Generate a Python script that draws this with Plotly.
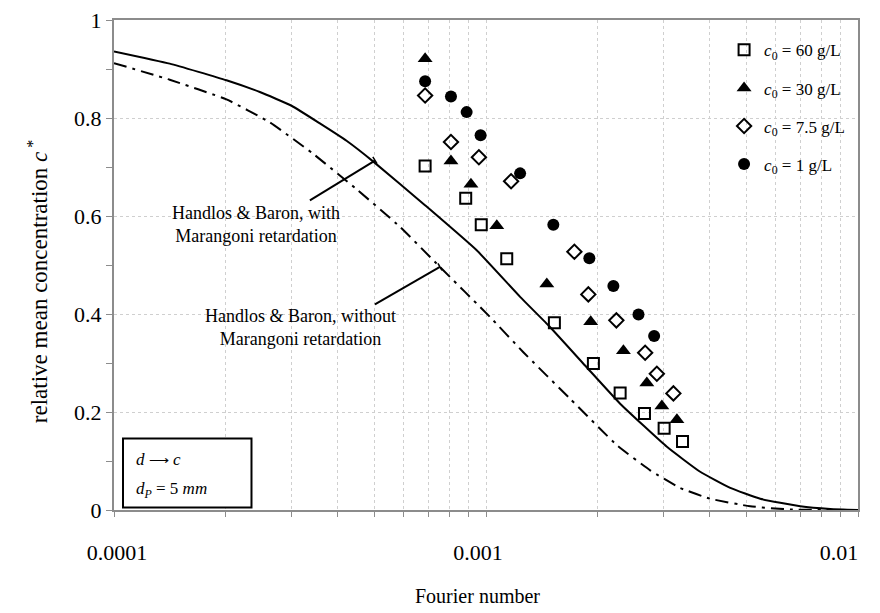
import plotly.graph_objects as go

# ---------------- data ----------------
fo_60 = [6.86e-4, 8.82e-4, 9.71e-4, 1.137e-3, 1.527e-3, 1.944e-3, 2.294e-3, 2.667e-3, 3.012e-3, 3.375e-3]
c_60 = [0.702, 0.636, 0.582, 0.513, 0.382, 0.299, 0.239, 0.197, 0.167, 0.140]

fo_30 = [6.86e-4, 8.05e-4, 9.11e-4, 1.069e-3, 1.457e-3, 1.912e-3, 2.341e-3, 2.706e-3, 2.970e-3, 3.260e-3]
c_30 = [0.921, 0.712, 0.665, 0.580, 0.461, 0.384, 0.325, 0.259, 0.212, 0.184]

fo_75 = [6.86e-4, 8.05e-4, 9.57e-4, 1.168e-3, 1.728e-3, 1.884e-3, 2.241e-3, 2.678e-3, 2.879e-3, 3.190e-3]
c_75 = [0.846, 0.751, 0.720, 0.671, 0.527, 0.440, 0.387, 0.321, 0.278, 0.238]

fo_1 = [6.86e-4, 8.05e-4, 8.87e-4, 9.67e-4, 1.235e-3, 1.517e-3, 1.896e-3, 2.200e-3, 2.570e-3, 2.831e-3]
c_1 = [0.875, 0.844, 0.812, 0.765, 0.687, 0.582, 0.514, 0.457, 0.399, 0.355]

# Handlos & Baron, with Marangoni retardation (solid)
fo_hb_with = [1e-4, 1.412e-4, 2.006e-4, 2.466e-4, 3.001e-4, 3.576e-4, 4.227e-4, 4.998e-4, 6.855e-4,
              9.44e-4, 1.235e-3, 1.471e-3, 1.846e-3, 2.294e-3, 3.064e-3, 3.765e-3, 4.535e-3,
              5.46e-3, 6.995e-3, 8.425e-3, 1e-2]
c_hb_with = [0.936, 0.911, 0.877, 0.853, 0.825, 0.789, 0.753, 0.710, 0.622,
             0.530, 0.435, 0.377, 0.295, 0.217, 0.129, 0.078, 0.045,
             0.023, 0.0076, 0.002, 0.0]

# Handlos & Baron, without Marangoni retardation (dash-dot)
fo_hb_without = [1e-4, 1.412e-4, 2.006e-4, 2.624e-4, 3.43e-4, 4.498e-4, 5.87e-4, 7.52e-4, 1.025e-3,
                 1.26e-3, 1.683e-3, 2.251e-3, 2.762e-3, 3.325e-3, 4.006e-3, 5.13e-3, 6.574e-3, 1e-2]
c_hb_without = [0.912, 0.878, 0.838, 0.791, 0.727, 0.654, 0.578, 0.496, 0.394,
                0.322, 0.227, 0.132, 0.081, 0.045, 0.023, 0.0076, 0.001, 0.0]

NB = "\u00a0"
x_tickvals = [1e-4, 1e-3, 1e-2]
x_ticktext = [NB * 4 + "0.0001", "0.001", "0.01" + NB * 4]
x_minor = [m * d for d in (1e-4, 1e-3) for m in range(2, 10)]
y_tickvals = [0, 0.2, 0.4, 0.6, 0.8, 1.0]
y_ticktext = ["0", "0.2", "0.4", "0.6", "0.8", "1"]

FONT = "Liberation Serif"

fig = go.Figure()

fig.add_trace(go.Scatter(x=fo_hb_with, y=c_hb_with, mode="lines",
                         line=dict(color="black", width=2, shape="spline", smoothing=0.4),
                         showlegend=False, hoverinfo="skip"))
fig.add_trace(go.Scatter(x=fo_hb_without, y=c_hb_without, mode="lines",
                         line=dict(color="black", width=2, dash="13px,6px,3px,6px", shape="spline", smoothing=0.4),
                         showlegend=False, hoverinfo="skip"))

fig.add_trace(go.Scatter(x=fo_60, y=c_60, mode="markers", name="<i>c</i><sub>0</sub> = 60 g/L", legendgroup="a",
                         marker=dict(symbol="square-open", size=11, color="black", line=dict(width=2, color="black"))))
fig.add_trace(go.Scatter(x=fo_30, y=c_30, mode="markers", name="<i>c</i><sub>0</sub> = 30 g/L", legendgroup="b",
                         marker=dict(symbol="triangle-up", size=13, color="black")))
fig.add_trace(go.Scatter(x=fo_75, y=c_75, mode="markers", name="<i>c</i><sub>0</sub> = 7.5 g/L", legendgroup="c",
                         marker=dict(symbol="diamond-open", size=11, color="black", line=dict(width=2, color="black"))))
fig.add_trace(go.Scatter(x=fo_1, y=c_1, mode="markers", name="<i>c</i><sub>0</sub> = 1 g/L", legendgroup="d",
                         marker=dict(symbol="circle", size=12, color="black")))

fig.update_layout(
    width=880, height=613,
    margin=dict(l=114, r=22, t=20, b=103, autoexpand=False),
    plot_bgcolor="white", paper_bgcolor="white",
    font=dict(family=FONT, color="black", size=18),
    legend=dict(x=0.82, y=0.975, xanchor="left", yanchor="top", bgcolor="rgba(0,0,0,0)",
                font=dict(size=17, family=FONT), tracegroupgap=13),
    xaxis=dict(type="log", range=[-4, -2], tickvals=x_tickvals, ticktext=x_ticktext,
               showline=True, mirror=True, linecolor="#8c8c8c", linewidth=2,
               ticks="outside", ticklen=5, tickcolor="#8c8c8c", tickfont=dict(size=22),
               showgrid=True, gridcolor="#cfcfcf", griddash="dot", gridwidth=1,
               ticklabelstandoff=17, ticklabelshift=-8, ticklabeloverflow="allow", automargin=False,
               minor=dict(tickvals=x_minor, ticks="outside", ticklen=5, tickcolor="#8c8c8c",
                          showgrid=True, gridcolor="#cfcfcf", griddash="dot", gridwidth=1),
               zeroline=False),
    yaxis=dict(range=[0, 1], tickvals=y_tickvals, ticktext=y_ticktext,
               showline=True, mirror=True, linecolor="#8c8c8c", linewidth=2,
               ticks="outside", ticklen=6, tickcolor="#8c8c8c", tickfont=dict(size=22),
               showgrid=True, gridcolor="#cfcfcf", griddash="dot", gridwidth=1, automargin=False,
               minor=dict(dtick=0.1, ticks="outside", ticklen=6, tickcolor="#8c8c8c", showgrid=False),
               zeroline=False),
)

# axis titles (placed as text to match the reference offsets)
fig.add_annotation(xref="paper", yref="paper", x=-0.1022, y=0.467, xanchor="center", yanchor="middle",
                   textangle=-90, showarrow=False,
                   text="relative mean concentration <i>c</i><sup> *</sup>", font=dict(size=23))
fig.add_annotation(xref="paper", yref="paper", x=0.488, y=-0.1755, xanchor="center", yanchor="middle",
                   showarrow=False, text="Fourier number", font=dict(size=20))

# annotation connector lines with small end caps
fig.add_shape(type="line", xref="paper", yref="paper", x0=0.2633, y0=0.632, x1=0.3507, y1=0.713,
              line=dict(color="black", width=2))
fig.add_shape(type="line", xref="paper", yref="paper", x0=0.3479, y0=0.7206, x1=0.3535, y1=0.7067,
              line=dict(color="black", width=1.5))
fig.add_shape(type="line", xref="paper", yref="paper", x0=0.3507, y0=0.4196, x1=0.4381, y1=0.4963,
              line=dict(color="black", width=2))
fig.add_shape(type="line", xref="paper", yref="paper", x0=0.4354, y0=0.5035, x1=0.4408, y1=0.4892,
              line=dict(color="black", width=1.5))

fig.add_annotation(xref="paper", yref="paper", x=0.1906, y=0.582, xanchor="center", yanchor="middle",
                   showarrow=False, text="Handlos &amp; Baron, with<br>Marangoni retardation",
                   font=dict(size=18), align="center")
fig.add_annotation(xref="paper", yref="paper", x=0.2511, y=0.3729, xanchor="center", yanchor="middle",
                   showarrow=False, text="Handlos &amp; Baron, without<br>Marangoni retardation",
                   font=dict(size=18), align="center")

# d -> c box
fig.add_shape(type="rect", xref="paper", yref="paper", x0=0.0121, y0=0.0049, x1=0.1848, y1=0.1457,
              line=dict(color="black", width=2), fillcolor="white", layer="above")
fig.add_annotation(xref="paper", yref="paper", x=0.0269, y=0.1029, xanchor="left", yanchor="middle",
                   showarrow=False, text="<i>d</i> <span style='font-size:14px'>⟶</span> <i>c</i>",
                   font=dict(size=17))
fig.add_annotation(xref="paper", yref="paper", x=0.0269, y=0.0402, xanchor="left", yanchor="middle",
                   showarrow=False, text="<i>d</i><sub><i>P</i></sub> = 5 <i>mm</i>", font=dict(size=17))

fig.write_html("out.html", config={"displayModeBar": False},
               post_script="document.body.style.margin='0';document.body.style.overflow='hidden';")
